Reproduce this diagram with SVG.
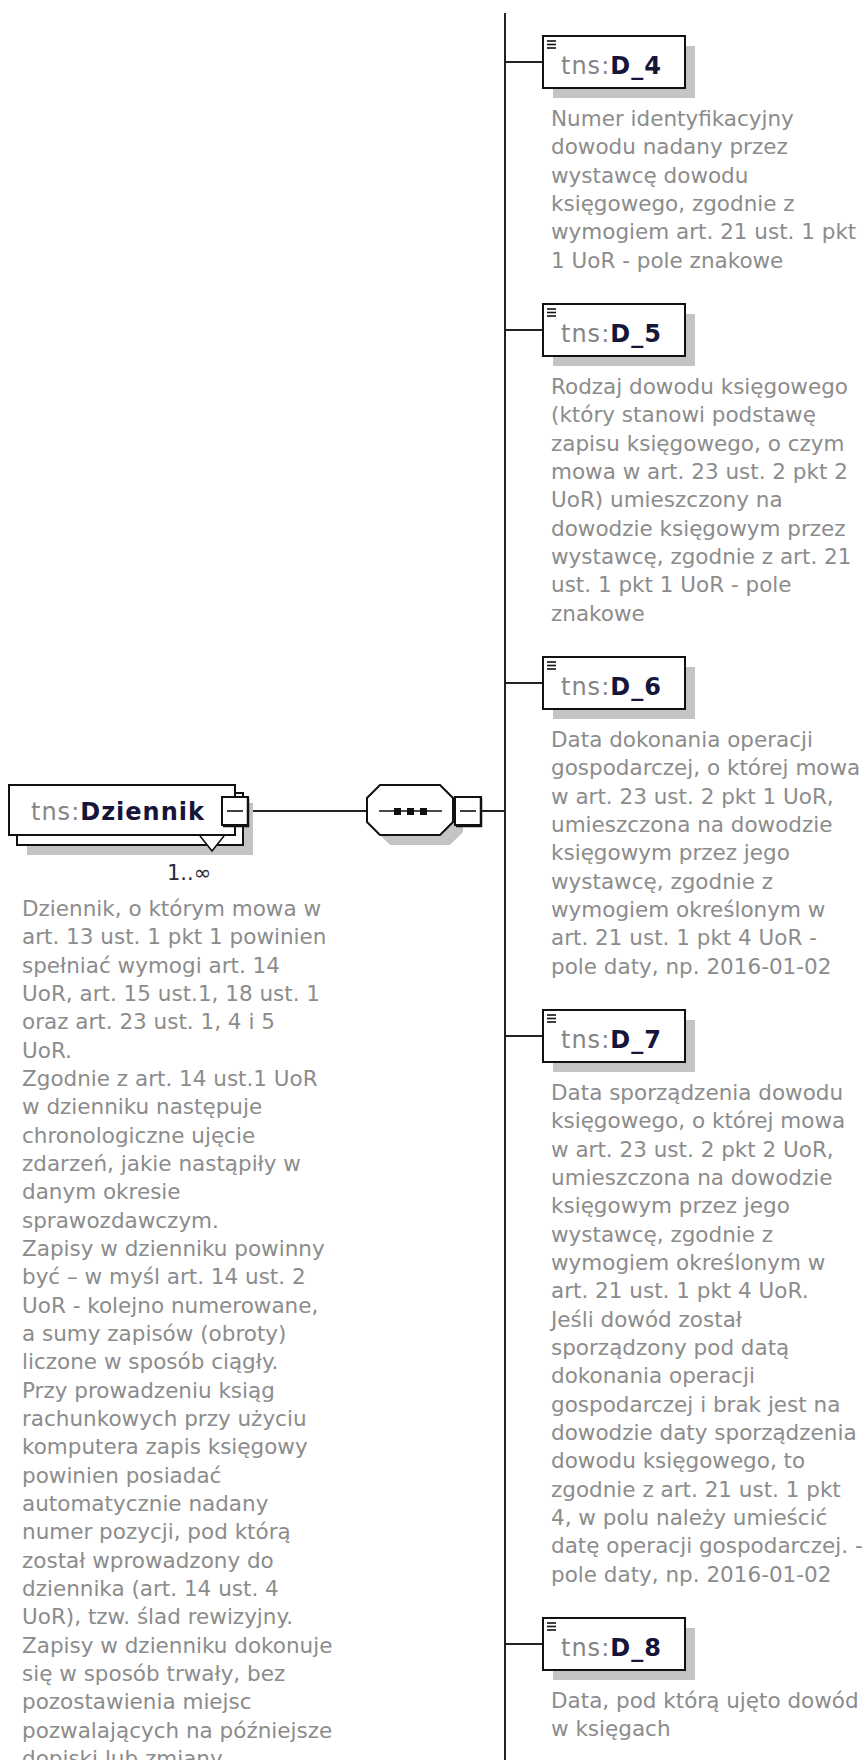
<svg xmlns="http://www.w3.org/2000/svg" width="864" height="1760" viewBox="0 0 864 1760">
  <style>
    .box { fill: #ffffff; stroke: #111111; stroke-width: 2; }
    .shadow { fill: #c4c4c4; stroke: none; }
    .wire { stroke: #222222; stroke-width: 2; fill: none; }
    .title { font-family: "DejaVu Sans", Verdana, sans-serif; font-size: 24px; letter-spacing: 1px; }
    .ns { fill: #858585; }
    .name { fill: #16163a; font-weight: bold; }
    .doc { font-family: "DejaVu Sans", Verdana, sans-serif; font-size: 21.5px; fill: #8c8c8c; }
    .occ { font-family: "DejaVu Sans", Verdana, sans-serif; font-size: 21px; fill: #2a2a3a; }
    .icon { stroke: #111111; stroke-width: 1.6; }
  </style>
  <defs>
    <!-- collapse (minus) button -->
    <g id="minus">
      <rect x="0" y="0" width="26" height="28" fill="#ffffff" stroke="#111111" stroke-width="2"/>
      <path d="M26 1 V29 H1" stroke="#111111" stroke-width="2.5" fill="none"/>
      <line x1="5" y1="14" x2="21" y2="14" stroke="#111111" stroke-width="1.6"/>
    </g>
    <!-- simple-content element icon -->
    <g id="lines">
      <line class="icon" x1="0" y1="0" x2="9" y2="0"/>
      <line class="icon" x1="0" y1="3.5" x2="9" y2="3.5"/>
      <line class="icon" x1="0" y1="7" x2="9" y2="7"/>
    </g>
  </defs>
  <rect width="864" height="1760" fill="#ffffff"/>

  <!-- connectors -->
  <g id="connectors">
    <line class="wire" x1="248" y1="811" x2="367" y2="811"/>
    <line class="wire" x1="482" y1="811" x2="505" y2="811"/>
    <line class="wire" x1="505" y1="13" x2="505" y2="1760"/>
    <line class="wire" x1="505" y1="62" x2="543" y2="62"/>
    <line class="wire" x1="505" y1="330" x2="543" y2="330"/>
    <line class="wire" x1="505" y1="683" x2="543" y2="683"/>
    <line class="wire" x1="505" y1="1036" x2="543" y2="1036"/>
    <line class="wire" x1="505" y1="1644" x2="543" y2="1644"/>
  </g>

  <!-- root element: tns:Dziennik (1..unbounded) -->
  <g id="node-dziennik">
    <rect class="shadow" x="27" y="803" width="226" height="52"/>
    <rect class="box" x="17" y="793" width="226" height="52"/>
    <rect class="box" x="9" y="785" width="226" height="50"/>
    <path d="M200 836 L212 851 L224 836" fill="#ffffff" stroke="#111111" stroke-width="1.6"/>
    <text class="title" x="31" y="820"><tspan class="ns">tns:</tspan><tspan class="name">Dziennik</tspan></text>
    <use href="#minus" x="222" y="797"/>
    <text class="occ" x="167" y="880">1..∞</text>
  </g>

  <!-- sequence compositor -->
  <g id="node-sequence">
    <polygon class="shadow" points="390,795 450,795 463,808 463,832 450,845 390,845 377,832 377,808"/>
    <polygon class="box" points="380,785 440,785 453,798 453,822 440,835 380,835 367,822 367,798"/>
    <line x1="379" y1="811" x2="442" y2="811" stroke="#111111" stroke-width="1.6"/>
    <rect x="394" y="808" width="7" height="7" fill="#111111"/>
    <rect x="407" y="808" width="7" height="7" fill="#111111"/>
    <rect x="420" y="808" width="7" height="7" fill="#111111"/>
    <use href="#minus" x="455" y="797"/>
  </g>

  <!-- child element: tns:D_4 -->
  <g id="node-d4">
    <rect class="shadow" x="553" y="46" width="142" height="52"/>
    <rect class="box" x="543" y="36" width="142" height="52"/>
    <use href="#lines" x="547" y="41"/>
    <text class="title" x="561" y="74"><tspan class="ns">tns:</tspan><tspan class="name">D_4</tspan></text>
    <text class="doc" x="551" y="126">
      <tspan x="551">Numer identyfikacyjny</tspan>
      <tspan x="551" dy="28.33">dowodu nadany przez</tspan>
      <tspan x="551" dy="28.33">wystawcę dowodu</tspan>
      <tspan x="551" dy="28.33">księgowego, zgodnie z</tspan>
      <tspan x="551" dy="28.33">wymogiem art. 21 ust. 1 pkt</tspan>
      <tspan x="551" dy="28.33">1 UoR - pole znakowe</tspan>
    </text>
  </g>

  <!-- child element: tns:D_5 -->
  <g id="node-d5">
    <rect class="shadow" x="553" y="314" width="142" height="52"/>
    <rect class="box" x="543" y="304" width="142" height="52"/>
    <use href="#lines" x="547" y="309"/>
    <text class="title" x="561" y="342"><tspan class="ns">tns:</tspan><tspan class="name">D_5</tspan></text>
    <text class="doc" x="551" y="394">
      <tspan x="551">Rodzaj dowodu księgowego</tspan>
      <tspan x="551" dy="28.33">(który stanowi podstawę</tspan>
      <tspan x="551" dy="28.33">zapisu księgowego, o czym</tspan>
      <tspan x="551" dy="28.33">mowa w art. 23 ust. 2 pkt 2</tspan>
      <tspan x="551" dy="28.33">UoR) umieszczony na</tspan>
      <tspan x="551" dy="28.33">dowodzie księgowym przez</tspan>
      <tspan x="551" dy="28.33">wystawcę, zgodnie z art. 21</tspan>
      <tspan x="551" dy="28.33">ust. 1 pkt 1 UoR - pole</tspan>
      <tspan x="551" dy="28.33">znakowe</tspan>
    </text>
  </g>

  <!-- child element: tns:D_6 -->
  <g id="node-d6">
    <rect class="shadow" x="553" y="667" width="142" height="52"/>
    <rect class="box" x="543" y="657" width="142" height="52"/>
    <use href="#lines" x="547" y="662"/>
    <text class="title" x="561" y="695"><tspan class="ns">tns:</tspan><tspan class="name">D_6</tspan></text>
    <text class="doc" x="551" y="747">
      <tspan x="551">Data dokonania operacji</tspan>
      <tspan x="551" dy="28.33">gospodarczej, o której mowa</tspan>
      <tspan x="551" dy="28.33">w art. 23 ust. 2 pkt 1 UoR,</tspan>
      <tspan x="551" dy="28.33">umieszczona na dowodzie</tspan>
      <tspan x="551" dy="28.33">księgowym przez jego</tspan>
      <tspan x="551" dy="28.33">wystawcę, zgodnie z</tspan>
      <tspan x="551" dy="28.33">wymogiem określonym w</tspan>
      <tspan x="551" dy="28.33">art. 21 ust. 1 pkt 4 UoR -</tspan>
      <tspan x="551" dy="28.33">pole daty, np. 2016-01-02</tspan>
    </text>
  </g>

  <!-- child element: tns:D_7 -->
  <g id="node-d7">
    <rect class="shadow" x="553" y="1020" width="142" height="52"/>
    <rect class="box" x="543" y="1010" width="142" height="52"/>
    <use href="#lines" x="547" y="1015"/>
    <text class="title" x="561" y="1048"><tspan class="ns">tns:</tspan><tspan class="name">D_7</tspan></text>
    <text class="doc" x="551" y="1100">
      <tspan x="551">Data sporządzenia dowodu</tspan>
      <tspan x="551" dy="28.33">księgowego, o której mowa</tspan>
      <tspan x="551" dy="28.33">w art. 23 ust. 2 pkt 2 UoR,</tspan>
      <tspan x="551" dy="28.33">umieszczona na dowodzie</tspan>
      <tspan x="551" dy="28.33">księgowym przez jego</tspan>
      <tspan x="551" dy="28.33">wystawcę, zgodnie z</tspan>
      <tspan x="551" dy="28.33">wymogiem określonym w</tspan>
      <tspan x="551" dy="28.33">art. 21 ust. 1 pkt 4 UoR.</tspan>
      <tspan x="551" dy="28.33">Jeśli dowód został</tspan>
      <tspan x="551" dy="28.33">sporządzony pod datą</tspan>
      <tspan x="551" dy="28.33">dokonania operacji</tspan>
      <tspan x="551" dy="28.33">gospodarczej i brak jest na</tspan>
      <tspan x="551" dy="28.33">dowodzie daty sporządzenia</tspan>
      <tspan x="551" dy="28.33">dowodu księgowego, to</tspan>
      <tspan x="551" dy="28.33">zgodnie z art. 21 ust. 1 pkt</tspan>
      <tspan x="551" dy="28.33">4, w polu należy umieścić</tspan>
      <tspan x="551" dy="28.33">datę operacji gospodarczej. -</tspan>
      <tspan x="551" dy="28.33">pole daty, np. 2016-01-02</tspan>
    </text>
  </g>

  <!-- child element: tns:D_8 -->
  <g id="node-d8">
    <rect class="shadow" x="553" y="1628" width="142" height="52"/>
    <rect class="box" x="543" y="1618" width="142" height="52"/>
    <use href="#lines" x="547" y="1623"/>
    <text class="title" x="561" y="1656"><tspan class="ns">tns:</tspan><tspan class="name">D_8</tspan></text>
    <text class="doc" x="551" y="1708">
      <tspan x="551">Data, pod którą ujęto dowód</tspan>
      <tspan x="551" dy="28.33">w księgach</tspan>
    </text>
  </g>

  <!-- documentation of tns:Dziennik -->
  <g id="doc-dziennik">
    <text class="doc" x="22" y="916">
      <tspan x="22">Dziennik, o którym mowa w</tspan>
      <tspan x="22" dy="28.33">art. 13 ust. 1 pkt 1 powinien</tspan>
      <tspan x="22" dy="28.33">spełniać wymogi art. 14</tspan>
      <tspan x="22" dy="28.33">UoR, art. 15 ust.1, 18 ust. 1</tspan>
      <tspan x="22" dy="28.33">oraz art. 23 ust. 1, 4 i 5</tspan>
      <tspan x="22" dy="28.33">UoR.</tspan>
      <tspan x="22" dy="28.33">Zgodnie z art. 14 ust.1 UoR</tspan>
      <tspan x="22" dy="28.33">w dzienniku następuje</tspan>
      <tspan x="22" dy="28.33">chronologiczne ujęcie</tspan>
      <tspan x="22" dy="28.33">zdarzeń, jakie nastąpiły w</tspan>
      <tspan x="22" dy="28.33">danym okresie</tspan>
      <tspan x="22" dy="28.33">sprawozdawczym.</tspan>
      <tspan x="22" dy="28.33">Zapisy w dzienniku powinny</tspan>
      <tspan x="22" dy="28.33">być – w myśl art. 14 ust. 2</tspan>
      <tspan x="22" dy="28.33">UoR - kolejno numerowane,</tspan>
      <tspan x="22" dy="28.33">a sumy zapisów (obroty)</tspan>
      <tspan x="22" dy="28.33">liczone w sposób ciągły.</tspan>
      <tspan x="22" dy="28.33">Przy prowadzeniu ksiąg</tspan>
      <tspan x="22" dy="28.33">rachunkowych przy użyciu</tspan>
      <tspan x="22" dy="28.33">komputera zapis księgowy</tspan>
      <tspan x="22" dy="28.33">powinien posiadać</tspan>
      <tspan x="22" dy="28.33">automatycznie nadany</tspan>
      <tspan x="22" dy="28.33">numer pozycji, pod którą</tspan>
      <tspan x="22" dy="28.33">został wprowadzony do</tspan>
      <tspan x="22" dy="28.33">dziennika (art. 14 ust. 4</tspan>
      <tspan x="22" dy="28.33">UoR), tzw. ślad rewizyjny.</tspan>
      <tspan x="22" dy="28.33">Zapisy w dzienniku dokonuje</tspan>
      <tspan x="22" dy="28.33">się w sposób trwały, bez</tspan>
      <tspan x="22" dy="28.33">pozostawienia miejsc</tspan>
      <tspan x="22" dy="28.33">pozwalających na późniejsze</tspan>
      <tspan x="22" dy="28.33">dopiski lub zmiany.</tspan>
    </text>
  </g>
</svg>
